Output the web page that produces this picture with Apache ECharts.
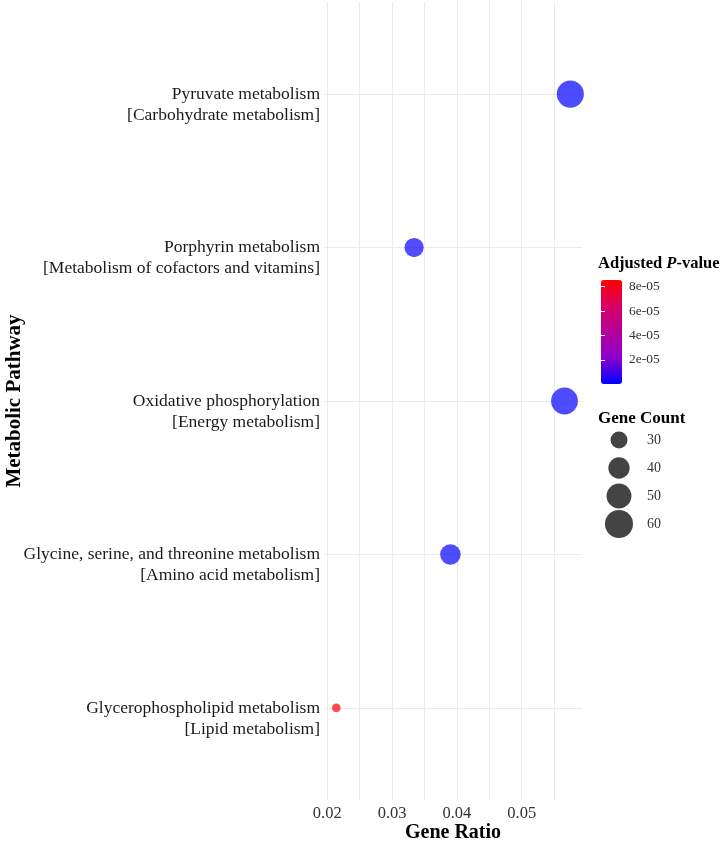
<!DOCTYPE html>
<html>
<head>
<meta charset="utf-8">
<script src="https://cdn.jsdelivr.net/npm/echarts@6/dist/echarts.min.js"></script>
<style>
  html, body { margin: 0; padding: 0; background: #fff; }
  #chart { width: 722px; height: 842px; }
</style>
</head>
<body>
<div id="chart"></div>
<script>
// top to bottom, as in the picture
const pathways = ['Pyruvate metabolism', 'Porphyrin metabolism', 'Oxidative phosphorylation',
  'Glycine, serine, and threonine metabolism', 'Glycerophospholipid metabolism'];
const pathwayClass = ['Carbohydrate metabolism', 'Metabolism of cofactors and vitamins', 'Energy metabolism',
  'Amino acid metabolism', 'Lipid metabolism'];
const geneRatio = [0.0575, 0.0334, 0.0566, 0.0390, 0.0214];
const geneCount = [57, 35, 56, 38, 17];
const padj = [1.5e-7, 1.2e-6, 4.0e-7, 8.0e-7, 8.55e-5];
const ratioTicks = [0.02, 0.03, 0.04, 0.05];
const ratioGrid = [0.02, 0.025, 0.03, 0.035, 0.04, 0.045, 0.05, 0.055];
const padjTicks = [2e-5, 4e-5, 6e-5, 8e-5];
const countBreaks = [30, 40, 50, 60];

const FONT = 'Liberation Serif, Times New Roman, serif';
const n = pathways.length;
const rows = pathways.map((p, i) => n - i);
const pMin = Math.min(...padj), pMax = Math.max(...padj);

// area of the dot grows with gene count
function dotSize(c) {
  return Math.sqrt(Math.max(16.5 * c - 206, 40));
}

const points = pathways.map((p, i) => [geneRatio[i], rows[i], padj[i], geneCount[i]]);

let myChart = echarts.init(document.getElementById('chart'));
myChart.setOption({
  backgroundColor: '#fff',
  animation: false,
  textStyle: { fontFamily: FONT },
  title: [
    {
      text: '{b|Adjusted }{i|P}{b|-value}',
      left: 598, top: 255, padding: 0,
      textStyle: {
        rich: {
          b: { fontFamily: FONT, fontWeight: 'bold', fontSize: 16.5, color: '#000' },
          i: { fontFamily: FONT, fontWeight: 'bold', fontStyle: 'italic', fontSize: 16.5, color: '#000' }
        }
      }
    },
    {
      text: 'Gene Count',
      left: 598, top: 410, padding: 0,
      textStyle: { fontFamily: FONT, fontWeight: 'bold', fontSize: 17, color: '#000' }
    }
  ],
  grid: [
    { left: 324, right: 140, top: 2, bottom: 42, outerBoundsMode: 'none' },
    { left: 601, top: 280, width: 21, height: 104, outerBoundsMode: 'none' },
    { left: 605, top: 426, width: 28, height: 112, outerBoundsMode: 'none' }
  ],
  xAxis: [
    {
      type: 'value', gridIndex: 0,
      min: 0.0195, max: 0.0593,
      axisLine: { show: false },
      axisTick: { show: false, customValues: ratioGrid },
      axisLabel: {
        customValues: ratioTicks,
        fontFamily: FONT, fontSize: 16.5, color: '#333', margin: 5,
        formatter: v => v.toFixed(2)
      },
      splitLine: { show: true, lineStyle: { color: '#ebebeb', width: 1 } },
      name: 'Gene Ratio', nameLocation: 'middle', nameGap: 23, nameMoveOverlap: false,
      nameTextStyle: { fontFamily: FONT, fontWeight: 'bold', fontSize: 20, color: '#000' }
    },
    { type: 'value', gridIndex: 1, show: false, min: 0, max: 1 },
    { type: 'value', gridIndex: 2, show: false, min: -1, max: 1 }
  ],
  yAxis: [
    {
      type: 'value', gridIndex: 0,
      min: 0.4, max: 5.6,
      axisLine: { show: false },
      axisTick: { show: false, customValues: rows },
      axisLabel: {
        customValues: rows,
        fontFamily: FONT, fontSize: 17.5, lineHeight: 21, color: '#1a1a1a', margin: 4,
        // leading empty line: first line sits on the row, second one below
        formatter: v => {
          const i = n - Math.round(v);
          return '\n' + pathways[i] + '\n[' + pathwayClass[i] + ']';
        }
      },
      splitLine: { show: true, lineStyle: { color: '#ebebeb', width: 1 } },
      name: 'Metabolic Pathway', nameLocation: 'middle', nameGap: 299, nameMoveOverlap: false,
      nameTextStyle: { fontFamily: FONT, fontWeight: 'bold', fontSize: 21, color: '#000' }
    },
    {
      type: 'value', gridIndex: 1, position: 'right', z: 10,
      min: pMin, max: pMax,
      axisLine: { show: false },
      axisTick: { show: true, inside: true, length: 4, customValues: padjTicks, lineStyle: { color: '#fff', width: 1 } },
      axisLabel: {
        customValues: padjTicks, margin: 7,
        fontFamily: FONT, fontSize: 13.5, color: '#333',
        formatter: v => v.toExponential(0).replace('e-', 'e-0')
      },
      splitLine: { show: false }
    },
    {
      type: 'value', gridIndex: 1, position: 'left', z: 10,
      min: pMin, max: pMax,
      axisLine: { show: false },
      axisTick: { show: true, inside: true, length: 4, customValues: padjTicks, lineStyle: { color: '#fff', width: 1 } },
      axisLabel: { show: false },
      splitLine: { show: false }
    },
    {
      type: 'category', gridIndex: 2, position: 'right', inverse: true,
      data: countBreaks.map(String),
      axisLine: { show: false },
      axisTick: { show: false },
      axisLabel: { margin: 14, fontFamily: FONT, fontSize: 14, color: '#333' },
      splitLine: { show: false }
    }
  ],
  visualMap: {
    type: 'continuous', seriesIndex: 0, dimension: 2,
    min: pMin, max: pMax,
    calculable: false, showLabel: false,
    left: 601, top: 280, itemWidth: 21, itemHeight: 104, padding: 0, z: 1,
    inRange: { color: ['#0000ff', '#8c00cd', '#b4009a', '#d80064', '#ff0000'] }
  },
  series: [
    {
      type: 'scatter', xAxisIndex: 0, yAxisIndex: 0,
      data: points,
      encode: { x: 0, y: 1 },
      symbolSize: val => dotSize(val[3]),
      itemStyle: { opacity: 0.7 }
    },
    {
      type: 'scatter', xAxisIndex: 2, yAxisIndex: 3,
      data: countBreaks.map(c => [0, String(c), c]),
      symbolSize: val => dotSize(val[2]),
      itemStyle: { color: '#444', opacity: 1 },
      silent: true
    }
  ]
});
</script>
</body>
</html>
